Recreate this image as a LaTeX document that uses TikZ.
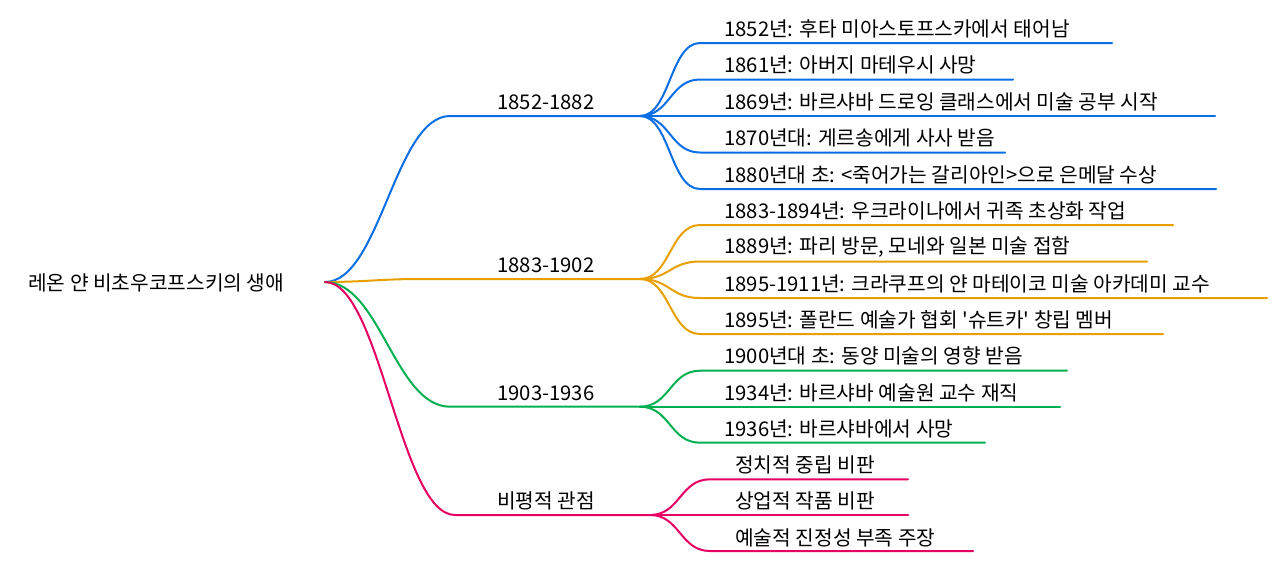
\documentclass[tikz,border=0pt]{standalone}
\usepackage{fontspec}
\setmainfont{Noto Sans CJK KR}
\usetikzlibrary{calc}

\definecolor{bluebranch}{RGB}{10,110,228}
\definecolor{orangebranch}{RGB}{232,160,0}
\definecolor{greenbranch}{RGB}{0,176,80}
\definecolor{pinkbranch}{RGB}{230,0,100}

\tikzset{
  label text/.style={anchor=west, inner sep=0pt, text=black, font=\fontsize{15.2}{18}\selectfont},
  twig/.style={line width=1.5pt, line cap=round},
}

\begin{document}
\begin{tikzpicture}[x=0.75pt, y=-0.75pt]

\useasboundingbox[fill=white] (0,0) rectangle (1280,565);

\node[label text] (root) at (28, 283) {레온 얀 비초우코프스키의 생애};
\coordinate (rootpt) at (325, 282);

% branch labels
\node[label text] (early) at (497, 102) {1852-1882};
\node[label text] (middle) at (497, 265) {1883-1902};
\node[label text] (late) at (497, 393) {1903-1936};
\node[label text] (critique) at (497, 501) {비평적 관점};

\coordinate (earlys) at (450, 116);      \coordinate (earlyj) at (640, 116);
\coordinate (middles) at (420, 279);     \coordinate (middlej) at (640, 279);
\coordinate (lates) at (450, 406.7);     \coordinate (latej) at (640, 406.7);
\coordinate (critiques) at (455, 515);   \coordinate (critiquej) at (650, 515);

% leaf labels
\node[label text] (birth) at (724, 29) {1852년: 후타 미아스토프스카에서 태어남};
\node[label text] (father) at (724, 65) {1861년: 아버지 마테우시 사망};
\node[label text] (drawing) at (724, 102) {1869년: 바르샤바 드로잉 클래스에서 미술 공부 시작};
\node[label text] (gerson) at (724, 138) {1870년대: 게르송에게 사사 받음};
\node[label text] (medal) at (724, 175) {1880년대 초: <죽어가는 갈리아인>으로 은메달 수상};

\node[label text] (ukraine) at (724, 211) {1883-1894년: 우크라이나에서 귀족 초상화 작업};
\node[label text] (paris) at (724, 247) {1889년: 파리 방문, 모네와 일본 미술 접함};
\node[label text] (krakow) at (724, 284) {1895-1911년: 크라쿠프의 얀 마테이코 미술 아카데미 교수};
\node[label text] (sztuka) at (724, 320) {1895년: 폴란드 예술가 협회 \textquotesingle 슈트카\textquotesingle\ 창립 멤버};

\node[label text] (orient) at (724, 356) {1900년대 초: 동양 미술의 영향 받음};
\node[label text] (warsaw) at (724, 393) {1934년: 바르샤바 예술원 교수 재직};
\node[label text] (death) at (724, 429) {1936년: 바르샤바에서 사망};

\node[label text] (neutral) at (735, 465) {정치적 중립 비판};
\node[label text] (commerce) at (735, 501) {상업적 작품 비판};
\node[label text] (authentic) at (735, 538) {예술적 진정성 부족 주장};

% root to branches
\draw[twig, bluebranch] (rootpt) .. controls +(55,0) and +(-55,0) .. (earlys) -- (earlyj);
\draw[twig, orangebranch] (rootpt) .. controls +(40,0) and +(-40,0) .. (middles) -- (middlej);
\draw[twig, greenbranch] (rootpt) .. controls +(55,0) and +(-55,0) .. (lates) -- (latej);
\draw[twig, pinkbranch] (rootpt) .. controls +(55,0) and +(-55,0) .. (critiques) -- (critiquej);

% branches to leaves
\draw[twig, bluebranch] (earlyj) .. controls +(30,0) and +(-30,0) .. (700, 43) -- (1112, 43);
\draw[twig, bluebranch] (earlyj) .. controls +(30,0) and +(-30,0) .. (700, 79.5) -- (1013, 79.5);
\draw[twig, bluebranch] (earlyj) -- (1215, 116);
\draw[twig, bluebranch] (earlyj) .. controls +(30,0) and +(-30,0) .. (700, 152.5) -- (1005, 152.5);
\draw[twig, bluebranch] (earlyj) .. controls +(30,0) and +(-30,0) .. (700, 189) -- (1216, 189);

\draw[twig, orangebranch] (middlej) .. controls +(30,0) and +(-30,0) .. (700, 225) -- (1173, 225);
\draw[twig, orangebranch] (middlej) .. controls +(30,0) and +(-30,0) .. (700, 261.5) -- (1147, 261.5);
\draw[twig, orangebranch] (middlej) .. controls +(30,0) and +(-30,0) .. (700, 298) -- (1267, 298);
\draw[twig, orangebranch] (middlej) .. controls +(30,0) and +(-30,0) .. (700, 334) -- (1163, 334);

\draw[twig, greenbranch] (latej) .. controls +(30,0) and +(-30,0) .. (700, 370.7) -- (1067, 370.7);
\draw[twig, greenbranch] (latej) -- (1060, 406.7);
\draw[twig, greenbranch] (latej) .. controls +(30,0) and +(-30,0) .. (700, 442.7) -- (985, 442.7);

\draw[twig, pinkbranch] (critiquej) .. controls +(30,0) and +(-30,0) .. (710, 479.3) -- (908, 479.3);
\draw[twig, pinkbranch] (critiquej) -- (908, 515);
\draw[twig, pinkbranch] (critiquej) .. controls +(30,0) and +(-30,0) .. (710, 551) -- (973, 551);

\end{tikzpicture}
\end{document}
